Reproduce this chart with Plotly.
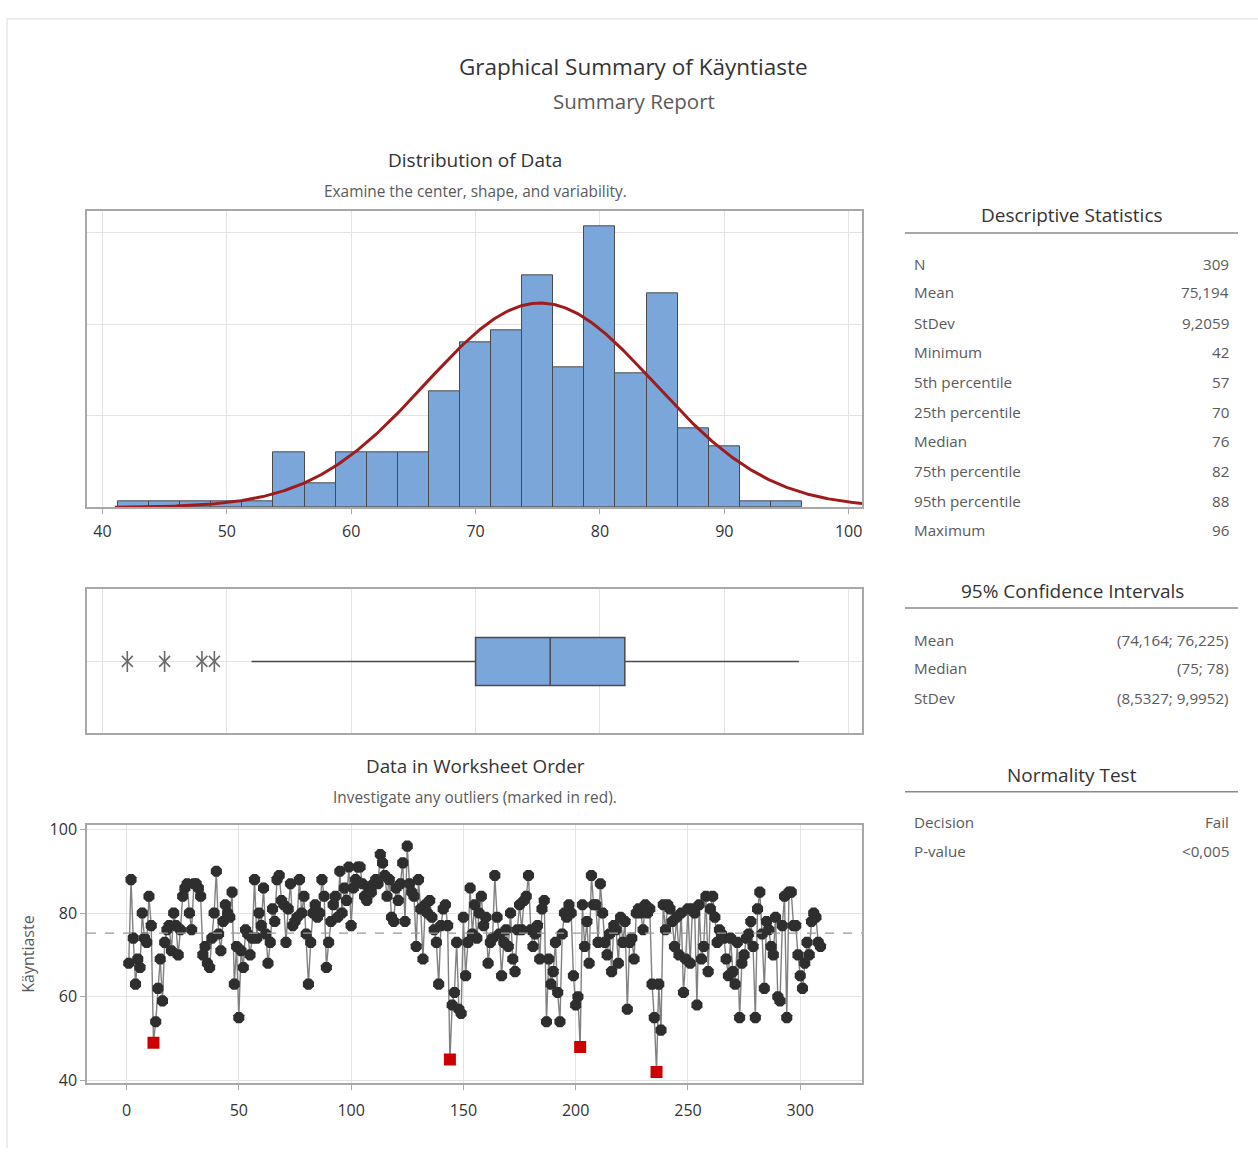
import numpy as np
import plotly.graph_objects as go

W, H = 1258, 1156
FONT = "Open Sans"

# ---- data -----------------------------------------------------------------
# Histogram of Käyntiaste (bin width 2.5), frequencies per bin
bin_centers = [42.5, 45, 47.5, 50, 52.5, 55, 57.5, 60, 62.5, 65, 67.5, 70,
               72.5, 75, 77.5, 80, 82.5, 85, 87.5, 90, 92.5, 95]
bin_counts = [1, 1, 1, 1, 1, 9, 4, 9, 9, 9, 19, 27,
              29, 38, 23, 46, 22, 35, 13, 10, 1, 1]
bin_width = 2.5

n_obs = 309
mean_val = 75.194
stdev_val = 9.2059
q1_val, median_val, q3_val = 70, 76, 82
whisker_low, whisker_high = 52, 96

# Käyntiaste in worksheet order
kayntiaste = [
    68, 88, 74, 63, 69, 67, 80, 74, 73, 84,
    77, 49, 54, 62, 69, 59, 73, 76, 77, 71,
    80, 77, 70, 76, 84, 86, 87, 80, 76, 87,
    87, 86, 84, 70, 72, 68, 67, 74, 80, 90,
    75, 71, 78, 82, 80, 79, 85, 63, 72, 55,
    71, 67, 76, 75, 70, 74, 88, 74, 80, 77,
    86, 75, 68, 73, 81, 78, 88, 89, 83, 82,
    73, 81, 87, 77, 78, 79, 88, 80, 84, 75,
    63, 73, 80, 82, 79, 80, 88, 84, 67, 73,
    78, 82, 84, 79, 90, 80, 86, 83, 91, 77,
    86, 88, 91, 91, 87, 84, 83, 86, 85, 87,
    88, 87, 94, 92, 89, 84, 88, 79, 78, 86,
    83, 87, 92, 78, 96, 87, 85, 84, 72, 88,
    81, 69, 82, 80, 83, 79, 76, 73, 63, 77,
    81, 82, 77, 45, 58, 61, 73, 57, 56, 79,
    65, 73, 86, 75, 82, 74, 80, 84, 77, 79,
    68, 73, 74, 89, 79, 75, 65, 73, 76, 72,
    80, 69, 66, 76, 82, 76, 83, 84, 89, 76,
    72, 75, 77, 69, 81, 83, 54, 69, 63, 66,
    73, 61, 54, 75, 80, 79, 82, 80, 65, 58,
    60, 48, 82, 72, 78, 68, 89, 82, 82, 73,
    87, 80, 73, 70, 75, 66, 77, 76, 68, 79,
    73, 78, 57, 73, 74, 69, 80, 81, 80, 76,
    82, 80, 81, 63, 55, 42, 63, 52, 82, 76,
    82, 81, 78, 72, 79, 70, 80, 61, 69, 81,
    68, 81, 80, 58, 82, 69, 72, 84, 66, 81,
    84, 79, 73, 76, 75, 74, 69, 65, 74, 66,
    63, 73, 55, 68, 70, 74, 75, 78, 72, 55,
    81, 85, 75, 62, 78, 76, 72, 70, 79, 60,
    59, 77, 84, 55, 85, 85, 77, 77, 70, 65,
    62, 68, 73, 70, 78, 80, 79, 73, 72,
]

hist_ticks = [40, 50, 60, 70, 80, 90, 100]
hist_freq_grid = [15, 30, 45]
order_xticks = [0, 50, 100, 150, 200, 250, 300]
order_yticks = [40, 60, 80, 100]

stat_labels = ["N", "Mean", "StDev", "Minimum", "5th percentile",
               "25th percentile", "Median", "75th percentile",
               "95th percentile", "Maximum"]
stat_values = ["309", "75,194", "9,2059", "42", "57", "70", "76", "82",
               "88", "96"]
ci_labels = ["Mean", "Median", "StDev"]
ci_values = ["(74,164; 76,225)", "(75; 78)", "(8,5327; 9,9952)"]
norm_labels = ["Decision", "P-value"]
norm_values = ["Fail", "<0,005"]

# ---- colours ----------------------------------------------------------------
BAR = "#7ba6d9"
OUTLINE = "#4a4a4a"
GRID = "#e4e4e4"
FRAME = "#a8a8a8"
DARK = "#333333"
MID = "#5a5a5a"


def px_x(x):
    return x / W


def px_y(y):
    return 1 - y / H


fig = go.Figure()

# ---- histogram with fitted normal curve -------------------------------------
fig.add_trace(go.Bar(
    x=bin_centers, y=bin_counts, width=bin_width,
    marker=dict(color=BAR, line=dict(color=OUTLINE, width=1)),
    xaxis="x", yaxis="y", showlegend=False, hoverinfo="skip"))

xc = np.linspace(41.0, 101.1, 400)
pdf = np.exp(-0.5 * ((xc - mean_val) / stdev_val) ** 2) / (stdev_val * np.sqrt(2 * np.pi))
fig.add_trace(go.Scatter(
    x=xc, y=pdf * n_obs * bin_width, mode="lines",
    line=dict(color="#a01c1c", width=3),
    xaxis="x", yaxis="y", showlegend=False, hoverinfo="skip"))

# ---- boxplot -----------------------------------------------------------------
fig.add_trace(go.Box(
    q1=[q1_val], median=[median_val], q3=[q3_val],
    lowerfence=[whisker_low], upperfence=[whisker_high], y=[0],
    orientation="h", width=1.0, whiskerwidth=0, boxpoints=False,
    fillcolor=BAR, line=dict(color=OUTLINE, width=1.5),
    xaxis="x2", yaxis="y2", showlegend=False, hoverinfo="skip"))

# outliers drawn as six-armed stars (an X plus a vertical bar)
outliers = [v for v in kayntiaste if v < whisker_low]
for sym, sz in [("x-thin-open", 11), ("line-ns-open", 15)]:
    fig.add_trace(go.Scatter(
        x=outliers, y=[0] * len(outliers), mode="markers",
        marker=dict(symbol=sym, size=sz, color="#6a6a6a",
                    line=dict(color="#6a6a6a", width=1.6)),
        xaxis="x2", yaxis="y2", showlegend=False, hoverinfo="skip"))

# ---- data in worksheet order --------------------------------------------------
idx = list(range(1, len(kayntiaste) + 1))
is_out = [v < whisker_low for v in kayntiaste]
fig.add_trace(go.Scatter(
    x=idx, y=kayntiaste, mode="lines+markers",
    line=dict(color="#808080", width=1.4),
    marker=dict(
        symbol=["square" if o else "octagon" for o in is_out],
        size=12,
        color=["#cc0000" if o else "#2e2e2e" for o in is_out],
        opacity=1, line=dict(width=0)),
    xaxis="x3", yaxis="y3", showlegend=False, hoverinfo="skip"))

# ---- axes ----------------------------------------------------------------------
xdom = [px_x(87), px_x(862)]
hist_range = [38.76, 101.07]
frame_axis = dict(showline=True, mirror=True, linecolor=FRAME, linewidth=1.5,
                  zeroline=False, gridcolor=GRID, gridwidth=1)
tickfont = dict(family=FONT, size=16, color=DARK)

fig.update_layout(
    xaxis=dict(domain=xdom, range=hist_range, tickvals=hist_ticks,
               ticks="outside", ticklen=5, tickcolor=FRAME, tickfont=tickfont,
               ticklabelstandoff=4, anchor="y", **frame_axis),
    yaxis=dict(domain=[px_y(507), px_y(207)], range=[0, 48.5],
               tickvals=hist_freq_grid, showticklabels=False,
               anchor="x", **frame_axis),
    xaxis2=dict(domain=xdom, range=hist_range, tickvals=hist_ticks,
                showticklabels=False, anchor="y2", **frame_axis),
    yaxis2=dict(domain=[px_y(736), px_y(590)], range=[-1.5, 1.5],
                tickvals=[0], showticklabels=False, anchor="x2", **frame_axis),
    xaxis3=dict(domain=xdom, range=[-17.6, 327.5], tickvals=order_xticks,
                ticks="outside", ticklen=5, tickcolor=FRAME, tickfont=tickfont,
                ticklabelstandoff=7, anchor="y3", **frame_axis),
    yaxis3=dict(domain=[px_y(1090), px_y(829)], range=[39.4, 101.0],
                tickvals=order_yticks, ticks="outside", ticklen=5,
                tickcolor=FRAME, tickfont=tickfont, anchor="x3",
                title=dict(text="Käyntiaste", standoff=11,
                           font=dict(family=FONT, size=16, color=MID)),
                **frame_axis),
)

shapes = [
    # outer frame (top and left edges)
    dict(type="line", xref="paper", yref="paper", x0=px_x(7), x1=1,
         y0=px_y(12), y1=px_y(12), line=dict(color="#dadada", width=1)),
    dict(type="line", xref="paper", yref="paper", x0=px_x(7), x1=px_x(7),
         y0=0, y1=px_y(12), line=dict(color="#dadada", width=1)),
    # mean reference line
    dict(type="line", xref="x3 domain", yref="y3", x0=0, x1=1,
         y0=mean_val, y1=mean_val,
         line=dict(color="#999999", width=1.3, dash="dash")),
]
# rules under the table headings
for yy in [229, 609, 795]:
    shapes.append(dict(type="line", xref="paper", yref="paper",
                       x0=px_x(905), x1=px_x(1238), y0=px_y(yy), y1=px_y(yy),
                       line=dict(color="#8a8a8a", width=1.5)))

annotations = []


def text(x, y, s, size, color, anchor="center"):
    annotations.append(dict(x=px_x(x), y=px_y(y), xref="paper", yref="paper",
                            text=s, showarrow=False, xanchor=anchor,
                            yanchor="middle",
                            font=dict(family=FONT, size=size, color=color)))


text(634, 60, "Graphical Summary of Käyntiaste", 22.5, DARK)
text(634, 95, "Summary Report", 20.5, MID)
text(475, 155, "Distribution of Data", 19, DARK)
text(475, 187, "Examine the center, shape, and variability.", 15.4, MID)
text(475, 769, "Data in Worksheet Order", 18.8, DARK)
text(475, 801, "Investigate any outliers (marked in red).", 15.4, MID)

text(1072, 211, "Descriptive Statistics", 19, DARK)
stat_rows_y = [260, 289, 320, 350, 380, 410, 440, 470, 501, 530]
for lab, val, yy in zip(stat_labels, stat_values, stat_rows_y):
    text(912, yy, lab, 15.2, MID, "left")
    text(1231, yy, val, 15.2, MID, "right")

text(1072, 592, "95% Confidence Intervals", 19, DARK)
for lab, val, yy in zip(ci_labels, ci_values, [641, 670, 700]):
    text(912, yy, lab, 15.2, MID, "left")
    text(1231, yy, val, 15.2, MID, "right")

text(1072, 778, "Normality Test", 19, DARK)
for lab, val, yy in zip(norm_labels, norm_values, [826, 855]):
    text(912, yy, lab, 15.2, MID, "left")
    text(1231, yy, val, 15.2, MID, "right")

fig.update_layout(
    width=W, height=H, autosize=False,
    margin=dict(l=0, r=0, t=0, b=0),
    paper_bgcolor="white", plot_bgcolor="white",
    font=dict(family=FONT, color=DARK),
    shapes=shapes, annotations=annotations, bargap=0,
)

fig.write_html("out.html")
